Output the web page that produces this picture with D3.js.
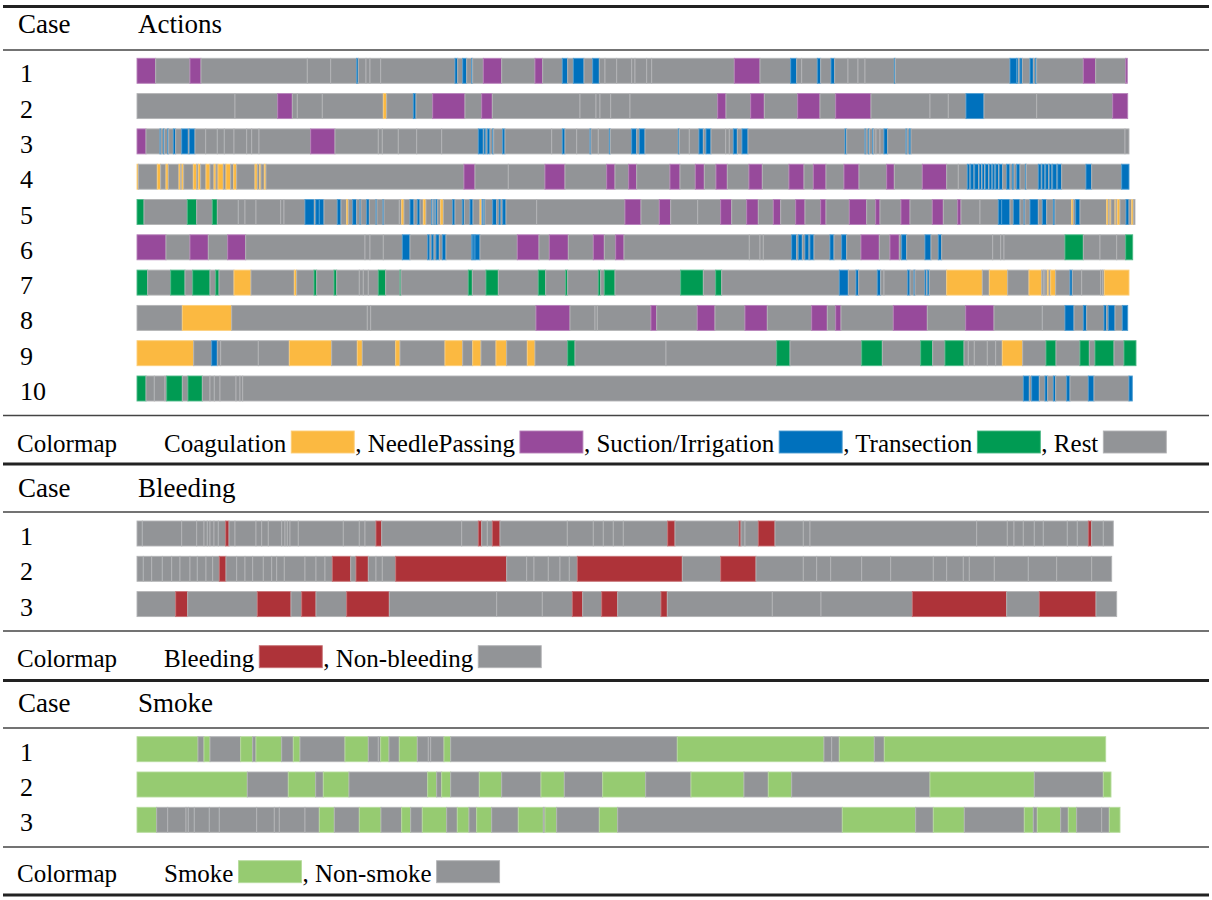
<!DOCTYPE html>
<html>
<head>
<meta charset="utf-8">
<script src="https://cdn.jsdelivr.net/npm/d3@7"></script>
<style>
body { margin: 0; background: #fff; }
text { font-family: "Liberation Serif", "Times New Roman", serif; fill: #000; }
</style>
</head>
<body>
<script>
// each row: tokens of <label><end time>, segments run from previous end
var actionRows = [
  "N18.7 R53 N64 R170.3 R193.7 R219.7 S221.3 R229 R233 R243.7 R318 S320.7 R325.7 S329.7 R334.7 S335.7 R346.3 N364.7 R398 N405.7 R425.3 S430.7 R436.3 S447 R455.7 S462.3 R468 R479.7 R494.7 R498 R509.7 R514.7 R597.3 N623 R653.7 S659.7 R664.7 R680.3 S683.7 R694 S697.7 R711 R721 R728 R757.3 S758.3 R873 S879.7 S881.3 R883 S885.3 R893 S896.3 R898.3 S899.7 R946.3 N958.7 R988.7 N990.3",
  "R98 R140.7 N155.3 R160.3 R185.3 R246.3 C249.7 R276.3 S279 R295.7 N328 R344.7 N355.3 R443 R459 R463 R473.7 R493 R580.7 N589 R613.7 N627.3 R660.7 N683 R698.7 N734 R793 R811.3 R829 S847 R899.7 R975.7 N990.7",
  "N9 R23 S24 R26.3 S27.3 R30.7 S31.7 R36.3 S38.7 R44.7 S51.3 R52.3 S58 R68.7 R80.3 R87.3 R97 R109.7 R114.7 R122 R173.7 N198 R241.3 R245.3 R261.3 R279.7 R304.7 R341.3 S346.3 R347 S349 R350.3 S353 R355.7 S356.7 R365.7 S368 R414.7 R425.3 S428 R439.7 R453 S454 R461.3 R472.3 S473.3 R494.7 S499.7 R502.3 S508 R541.3 S542.3 R552.3 R562 S566.3 R569 S574 R588.7 R592.3 R596.3 S600.3 R605 S611 R708 S709.7 R728 S729 R731.3 S732.3 R735.7 S736.7 R739 R743 R747 S750.7 R769 S770 R772.3 S774 R988 R992",
  "C1.3 R20.3 C23.7 R29 C31.3 R42 C43.7 R45 C46.7 R56.3 C59.7 R61.3 C63.7 R69 C73 R77 C79 R81 C86.3 R89 C93.7 R96.7 C99.7 R118 C120.3 R122.7 C124 R127.3 C129 R327 N338 R371.3 R408 N428 R469.7 N478 R491.7 N499.7 R533 N543 R558.3 N567.3 R579 N590.3 R612 N625.3 R652 N667 R676.3 N689 R707 N722 R749.7 N757.3 R785.3 N809.7 R821.3 R830.3 S833 R833.7 S837 R837.7 S841.5 R842.2 S844.5 R845.2 S847.5 R848.2 S851.5 R852.2 S855 R855.7 S858 R858.7 S861.5 R862.2 S865.7 R869.7 S873 R875.3 S877 R879.7 S883 R888.3 S889.3 R901.3 S904.3 R905 S908 R908.7 S911.7 R912.4 S915 R915.7 S920 R920.7 S924.7 R949 S954.7 R984.7 S992",
  "T7 R50.3 T59.7 R75.3 T80.3 R101.3 R108 R119 R143.7 R147 R168 S177.3 R178.7 S182.3 S187 R200.3 S204 R209.7 C211.3 R215.7 S219.7 R223 S224 R229.7 S232.3 R239 S240 R246 S247 R262.3 R264.7 C267 R273 S277 R280.3 S283 R286.3 C289 R294.7 S295.7 R297 S298 R299 S300.7 R303.7 C306.3 R315.7 S318 R325.3 S327.3 R333 S336 R343 C344.5 R345.7 S346.7 R347 S348 R355.7 S359.7 R362 S364 R365.7 S369 R399.7 R488 N504 R522.3 N533.7 R560.7 R583.7 N594.7 R609.7 N621.3 R636.3 N643.7 R658.7 N668 R683.7 N689 R712.3 N729.7 R738.7 N743 R764 N773 R795.3 N806.3 R820.7 N824 R843 R861.3 S864.7 S873 R876.3 S883 R887 S888 R893 S901.3 R905.3 S909.7 R916.3 S918 R934.7 C936.3 R938.7 S943 R969.7 C971.3 R973 C974 R978 C979 R980.3 C983 R989 S992 R994.7 C996.3 R998",
  "N29 R53 N71.3 R90.7 N108.7 R228 R233 R246.3 R265.3 S273 R290.7 S293 R294.7 S297 R299 S302.3 R305.3 S309 R334.7 S336 S338 S343 R380.3 N402 R412.3 N431.3 R456.3 N467.3 R478.7 N487 R612.3 R623 R626.3 R654.7 S659.7 R661.3 S665.3 R668 S672 R673 S677 R693 S697 R704.7 S709.7 R724 N742.3 R753 N762.3 R764.7 S769.7 R788 S794 R801.3 S804.7 R855.7 R863.7 R867 R928 T946.3 R963 R979.7 R988.7 T995.7",
  "T10.7 R33.7 T48 R55.7 T73 R78.7 T82 R97 C114 R157.3 C159.7 R177 T179.7 R197 T199.7 R222.3 R226.3 R231.3 R241.3 T248.7 R263 T264 R331.3 T335.3 R349 T361.3 R401.3 T408.7 R428.7 T430.7 R461.3 T463.7 R467.3 T478 R543.7 T566.3 R578.7 T584.7 R702.3 S711.3 R719 S721.7 R740.3 S743.7 R747 R770.7 S773 R777 S778 R788 S789.7 R790.7 S792.3 R809.7 C845.3 R852.3 C870.7 R892 C904.7 R906.3 R908 R910.3 C912 R913.7 C918.7 R933 S935.3 R944.7 R963.7 R965.7 R967.3 C992",
  "R45.3 C94.7 R230.3 R233.7 R399 N433 R458 R460.3 R514 N519.7 R560.3 N578 R608 N630.3 R674.7 N690.3 R698.7 N704 R756.3 N790.3 R828.7 N857 R905.3 R928 S937 R946.3 S949.7 R967 S969.7 R971.3 S978 R985.3 S990.7",
  "C56.7 R74.7 S80.3 R83.7 R121.3 R152.3 C194.7 R220.3 C225.3 R258.7 C263 R308 C325.7 R335.7 C344 R359 C369.7 R390.3 C398 R430.7 T438 R529 R639.7 T653 R724.7 T745.3 R783.7 T795.7 R808 T827 R831.3 R837.3 R850.3 R858.7 R865.3 C885.7 R909 T919 R943 T952.3 R958 T977 R987 T999",
  "T9 R17.3 R28 R29.7 T45.3 R51 T65.3 R73 R77.3 R83 R99 R103 R105.7 R886.3 S892.3 R894.7 S902.3 R908 S910.7 R916.3 S918.7 R929.7 S933 R951.3 S957 R992 S995.3"
];
var actionKeys = ["C", "N", "S", "T", "R"];
var actionNames = ["Coagulation", "NeedlePassing", "Suction/Irrigation", "Transection", "Rest"];
var actionColors = ["#fbb941", "#974a9b", "#0071bd", "#009b53", "#929497"];

var bleedingRows = [
  "G5.3 G44.7 G59.7 G67 G70.3 G73 G77 G81.3 G88.7 B92 G98 G119 G124.7 G131.3 G144.7 G148 G150.3 G153 G161.3 G206.3 G222.3 G228 G239 B244.7 G324.7 G341.3 B344.7 G350.3 G355.3 B363 G430.3 G456.3 G466.3 G476.3 G486.3 G530.7 B538 G602 B604 G608 G621.3 B638 G666.3 G673 G839.7 G870.3 G877 G886.3 G897.3 G906.3 G930.3 G940.3 G951.3 B954.7 G966.3 G976.3",
  "G6.3 G14.7 G25.3 G34.7 G43 G53 G60.3 G69 G75.7 G82.3 B89 G99.7 G108 G115.7 G126.3 G134.7 G139.7 G147.3 G168 G179 G188 G195.3 B213.7 G219 B231.3 G239 G245.3 G258.7 B369.7 G389.7 G397 G411.3 G423 G432.3 G440.3 B545.3 G583.7 B619 G666.3 G679.7 G693.7 G724.7 G753.7 G796.3 G809.7 G826.3 G832.3 G857.3 G891.3 G919.7 G954.7 G974.7",
  "G38.7 B50.7 G120.3 B154 G164.7 B179 G209.7 B252.3 G359.7 G405.3 G435.3 B445.7 G464.7 B480.7 G524 B530.3 G635.3 G684 G775.3 B869.7 G902.3 B959 G979.7"
];
var bleedingKeys = ["B", "G"];
var bleedingNames = ["Bleeding", "Non-bleeding"];
var bleedingColors = ["#ae3339", "#929497"];

var smokeRows = [
  "S61 G67 S73 G103.7 S115.7 G119 S144.7 G156.3 S163 G208 S231.3 G241.3 G243.7 S252 G262.3 S280.3 G291.3 G293.7 G307 S313.7 G540.3 S687 G694.7 G702.3 S737.3 G747.3 S968.7",
  "S110.3 G151.3 S178.7 G186.3 S212 G290.7 S299.7 G304.7 S313.7 G342.3 S364.7 G404 S427.3 G465.7 S508.7 G554 S607 G631.3 S654.7 G793 S897.3 G966.3 S974",
  "S19.7 G30.7 G49 G51.3 G57.3 G72.3 G82.3 G119.7 G137.3 G142.3 G168 G182.3 S197.3 G222.3 S244 G264.7 S273.7 G285.3 S309.7 G320.3 S332 G339.7 S354.7 G381.3 S406.3 G408 S419.7 G462.3 S480.7 G705.3 S778.7 G796.3 S827.3 G887.3 S896.3 G900.3 S923.7 G931.3 S939.7 G964.7 G972.3 S983"
];
var smokeKeys = ["S", "G"];
var smokeNames = ["Smoke", "Non-smoke"];
var smokeColors = ["#96cb71", "#929497"];

var width = 1212, height = 900;
var svg = d3.select("body").append("svg").attr("width", width).attr("height", height);

var x = d3.scaleLinear().domain([0, 1000]).range([137, 1137]);
var barH = 25, rowStep = 35.3;

function parse(s) {
    var segs = [], t = 0;
    s.trim().split(/\s+/).forEach(function (tok) {
        var e = +tok.slice(1);
        segs.push({k: tok[0], x0: t, x1: e});
        t = e;
    });
    return segs;
}

function hline(y, w) {
    svg.append("line").attr("x1", 3).attr("x2", 1209).attr("y1", y).attr("y2", y)
        .attr("stroke", w > 2 ? "#222" : "#444").attr("stroke-width", w);
}

var sections = [
    {title: "Actions", rows: actionRows, keys: actionKeys, names: actionNames, colors: actionColors,
        top: 6.5, head: 33, headLine: 50, rowTop: 58.3, legLine: 415.5, legBase: 452},
    {title: "Bleeding", rows: bleedingRows, keys: bleedingKeys, names: bleedingNames, colors: bleedingColors,
        top: 464, head: 496.7, headLine: 512, rowTop: 521, legLine: 631, legBase: 666.7},
    {title: "Smoke", rows: smokeRows, keys: smokeKeys, names: smokeNames, colors: smokeColors,
        top: 680.5, head: 711.7, headLine: 728, rowTop: 736.7, legLine: 847, legBase: 881.7}
];

sections.forEach(function (sec) {
    var color = d3.scaleOrdinal().domain(sec.keys).range(sec.colors);
    var edge = function (k) { return d3.interpolateRgb(color(k), "#fff")(0.3); };
    var y = d3.scaleLinear().domain([0, 1]).range([sec.rowTop, sec.rowTop + rowStep]);

    hline(sec.top, 3);
    svg.append("text").attr("x", 18).attr("y", sec.head).style("font-size", "27px").text("Case");
    svg.append("text").attr("x", 138).attr("y", sec.head).style("font-size", "27px").text(sec.title);
    hline(sec.headLine, 1.4);

    sec.rows.forEach(function (row, i) {
        svg.append("text").attr("x", 20).attr("y", y(i) + 24).style("font-size", "26px").text(i + 1);
        svg.append("g").selectAll("rect").data(parse(row)).join("rect")
            .attr("x", function (d) { return x(d.x0); })
            .attr("width", function (d) { return x(d.x1) - x(d.x0); })
            .attr("y", y(i))
            .attr("height", barH)
            .attr("fill", function (d) { return color(d.k); })
            .attr("stroke", function (d) { return edge(d.k); })
            .attr("stroke-width", 0.9);
    });

    hline(sec.legLine, 1.4);
    svg.append("text").attr("x", 17).attr("y", sec.legBase).style("font-size", "25px").text("Colormap");
    var cx = 164;
    sec.keys.forEach(function (k, j) {
        var t = svg.append("text").attr("x", cx).attr("y", sec.legBase).style("font-size", "25px")
            .text((j > 0 ? ", " : "") + sec.names[j]);
        cx += t.node().getComputedTextLength() + 5;
        svg.append("rect").attr("x", cx).attr("y", sec.legBase - 21).attr("width", 63).attr("height", 22)
            .attr("fill", color(k)).attr("stroke", edge(k)).attr("stroke-width", 0.9);
        cx += 63 + 1;
    });
});
hline(895, 3);
</script>
</body>
</html>
